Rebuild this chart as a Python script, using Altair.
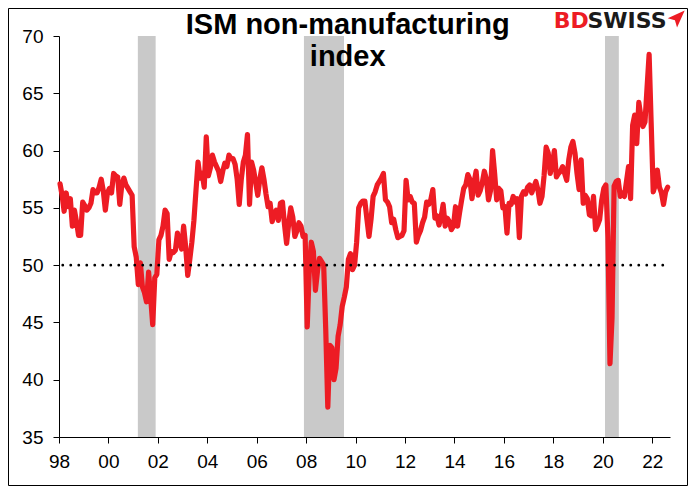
import altair as alt
import pandas as pd

# ISM non-manufacturing index, monthly values
v1998 = [57.1, 56.1, 54.7, 56.3, 55.1, 55.8, 53.4, 54.8, 53.8, 52.6, 52.6, 55.5]
v1999 = [55.2, 54.8, 55.0, 55.4, 56.6, 56.3, 56.3, 56.8, 57.5, 56.5, 54.8, 56.3]
v2000 = [56.7, 56.3, 58.0, 57.8, 57.7, 55.3, 57.0, 57.6, 57.0, 56.7, 56.4, 56.1]
v2001 = [51.6, 50.7, 48.3, 50.2, 48.1, 47.6, 46.8, 49.4, 47.2, 44.8, 48.9, 49.2]
v2002 = [52.2, 52.6, 53.4, 54.8, 54.5, 50.5, 51.2, 51.1, 51.3, 52.8, 52.0, 51.4]
v2003 = [53.4, 51.6, 49.1, 50.5, 52.0, 53.9, 56.5, 59.0, 57.6, 58.0, 56.8, 61.2]
v2004 = [57.8, 58.5, 59.6, 59.0, 58.6, 58.2, 57.3, 58.2, 58.9, 58.6, 59.6, 59.3]
v2005 = [59.3, 58.8, 57.5, 55.3, 57.5, 59.0, 59.6, 61.4, 55.3, 59.0, 58.3, 57.2]
v2006 = [56.1, 57.5, 58.5, 57.5, 56.2, 55.1, 55.4, 53.8, 54.5, 54.8, 53.9, 55.4]
v2007 = [55.5, 53.5, 51.9, 53.6, 55.0, 54.2, 52.5, 53.0, 53.7, 53.4, 52.5, 52.6]
v2008 = [44.6, 49.5, 52.0, 51.2, 47.8, 49.5, 50.6, 50.3, 50.0, 44.4, 37.6, 43.0]
v2009 = [42.8, 40.0, 41.0, 43.8, 44.8, 46.4, 47.2, 48.1, 50.5, 51.0, 49.6, 50.0]
v2010 = [52.0, 55.0, 55.4, 55.6, 55.6, 54.0, 52.5, 54.0, 56.0, 56.4, 57.0, 57.3]
v2011 = [57.6, 58.0, 55.7, 55.5, 55.1, 53.7, 54.0, 53.1, 52.4, 52.5, 52.6, 53.0]
v2012 = [57.4, 55.7, 56.0, 55.5, 55.4, 52.0, 52.6, 53.0, 53.7, 54.2, 55.5, 55.3]
v2013 = [55.7, 56.6, 54.1, 54.3, 53.5, 54.2, 55.3, 53.4, 54.1, 53.8, 53.1, 53.4]
v2014 = [55.1, 53.4, 54.6, 55.7, 56.7, 57.0, 57.9, 57.5, 55.8, 57.2, 58.2, 56.1]
v2015 = [56.5, 57.2, 58.2, 57.5, 55.7, 56.5, 60.0, 58.0, 55.7, 56.7, 56.5, 55.0]
v2016 = [55.1, 52.8, 55.4, 55.3, 56.0, 55.5, 55.8, 52.4, 56.0, 56.4, 56.2, 56.8]
v2017 = [57.0, 56.3, 56.8, 57.3, 56.6, 55.4, 56.0, 57.8, 60.3, 59.8, 58.0, 58.8]
v2018 = [60.0, 57.7, 58.0, 58.2, 58.6, 58.0, 57.4, 59.2, 60.3, 60.8, 59.8, 58.0]
v2019 = [56.6, 59.2, 55.4, 56.1, 55.8, 54.4, 54.3, 56.0, 53.1, 53.5, 54.0, 55.7]
v2020 = [56.7, 57.0, 52.5, 41.4, 45.4, 56.9, 57.3, 57.4, 56.0, 56.3, 56.0, 57.3]
v2021 = [58.6, 55.8, 62.2, 63.1, 60.6, 64.2, 63.0, 62.1, 62.5, 65.5, 68.4, 62.4]
v2022 = [56.4, 57.0, 58.3, 56.8, 56.3, 55.3, 56.4, 56.8]

series = {
    1998: v1998, 1999: v1999, 2000: v2000, 2001: v2001, 2002: v2002,
    2003: v2003, 2004: v2004, 2005: v2005, 2006: v2006, 2007: v2007,
    2008: v2008, 2009: v2009, 2010: v2010, 2011: v2011, 2012: v2012,
    2013: v2013, 2014: v2014, 2015: v2015, 2016: v2016, 2017: v2017,
    2018: v2018, 2019: v2019, 2020: v2020, 2021: v2021, 2022: v2022,
}

# US recessions (decimal years)
rec_start = [2001.19, 2007.91, 2020.09]
rec_end = [2001.91, 2009.53, 2020.65]

tick_years = list(range(1998, 2023, 2))
y_ticks = [35, 40, 45, 50, 55, 60, 65, 70]

rows = []
for yr, vals in series.items():
    for m, v in enumerate(vals):
        rows.append({"t": yr + (m + 0.5) / 12.0, "v": v})
df = pd.DataFrame(rows)
rec = pd.DataFrame({"s": rec_start, "e": rec_end})
one = pd.DataFrame({"k": [0]})

W, H = 611, 401
FONT = "Liberation Sans"

xscale = alt.Scale(domain=[1998, 2022.72], nice=False, zero=False)
yscale = alt.Scale(domain=[35, 70], nice=False, zero=False)

xaxis = alt.Axis(values=tick_years, labelExpr="substring(toString(datum.value), 2, 4)",
                 title=None, grid=False, tickSize=6, labelPadding=9, labelFontSize=19,
                 labelFont=FONT, labelColor="black", domainColor="black", tickColor="black",
                 labelFlush=False, labelOverlap=False, domainWidth=1, tickWidth=1)
yaxis = alt.Axis(values=y_ticks, title=None, grid=False, tickSize=6, labelPadding=10,
                 labelFontSize=19, labelFont=FONT, labelColor="black", domainColor="black",
                 tickColor="black", labelOverlap=False, domainWidth=1, tickWidth=1)

bands = alt.Chart(rec).mark_rect(color="#C9C9C9").encode(
    x=alt.X("s:Q", scale=xscale, axis=xaxis),
    x2="e:Q",
    y=alt.datum(35, scale=yscale, axis=yaxis),
    y2=alt.datum(70),
)

line = alt.Chart(df).mark_line(color="#ED1C24", strokeWidth=5.2, strokeJoin="round",
                               strokeCap="round").encode(
    x=alt.X("t:Q", scale=xscale, axis=xaxis),
    y=alt.Y("v:Q", scale=yscale, axis=yaxis),
)

rule = alt.Chart(one).mark_rule(color="black", strokeWidth=2.7, strokeDash=[0.1, 7.9],
                                strokeCap="round").encode(
    x=alt.datum(1998.15),
    x2=alt.datum(2022.5),
    y=alt.datum(50),
)

title1 = alt.Chart(one).mark_text(text="ISM non-manufacturing", font=FONT, fontSize=29,
                                  fontWeight="bold", color="black", align="center",
                                  baseline="alphabetic").encode(
    x=alt.value(288.7), y=alt.value(-1.8))
title2 = alt.Chart(one).mark_text(text="index", font=FONT, fontSize=29,
                                  fontWeight="bold", color="black", align="center",
                                  baseline="alphabetic").encode(
    x=alt.value(288.7), y=alt.value(30))

logo1 = alt.Chart(one).mark_text(text="BD", font="DejaVu Sans", fontSize=22,
                                 fontWeight="bold", color="#ED1C24", align="left",
                                 baseline="alphabetic").encode(
    x=alt.value(494.7), y=alt.value(-7.7))
logo2 = alt.Chart(one).mark_text(text="SWISS", font="DejaVu Sans", fontSize=22,
                                 fontWeight="bold", color="#1a1a1a", align="left",
                                 baseline="alphabetic").encode(
    x=alt.value(528.5), y=alt.value(-7.7))
logo3 = alt.Chart(one).mark_point(
    shape="M 1 -1 L -1 -0.1 L -0.15 0.15 L 0.1 1 Z", filled=True, color="#ED1C24",
    size=289, opacity=1, strokeWidth=0).encode(
    x=alt.value(617.2), y=alt.value(-17))

frame = alt.Chart(one).mark_rect(filled=False, stroke="black", strokeWidth=1).encode(
    x=alt.value(-50.5), x2=alt.value(628.5), y=alt.value(-27.5), y2=alt.value(449.5))

chart = alt.layer(bands, line, rule, title1, title2, logo1, logo2, logo3, frame).properties(
    width=W, height=H,
    autosize=alt.AutoSizeParams(type="none"),
    padding={"left": 51, "top": 28, "right": 18, "bottom": 49},
    background="white",
).configure_view(stroke=None)

chart.save("out.html", embed_options={"renderer": "svg", "actions": False})
